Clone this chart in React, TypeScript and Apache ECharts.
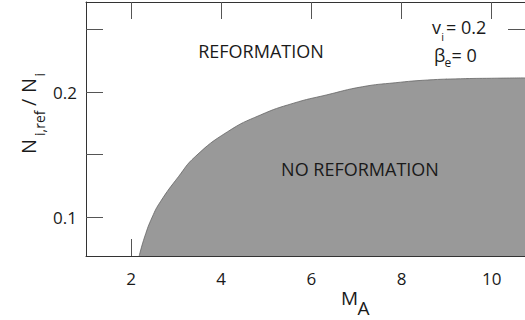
import React, { useEffect, useRef } from "react";
import * as echarts from "echarts";

// Reformation boundary: N_i,ref / N_i versus Alfvén Mach number M_A
const machNumbers = [2.18, 2.3, 2.47, 2.65, 3.05, 3.42, 4.14, 4.87, 5.6, 6.33, 7.13, 7.86, 8.58, 9.31, 10.0, 10.74];
const densityRatio = [0.0688, 0.084, 0.1, 0.1122, 0.1322, 0.1482, 0.1682, 0.1816, 0.191, 0.1976, 0.2042, 0.2074, 0.2096, 0.2106, 0.211, 0.2113];

const xTicks = [2, 4, 6, 8, 10];
const yTicks = [0.1, 0.15, 0.2, 0.25];
const yLabels = [0.1, 0.2];

const X_MIN = 1;
const X_MAX = 10.74;
const Y_MIN = 0.0688;
const Y_MAX = 0.272;

const FONT = "'Open Sans', 'Noto Sans', sans-serif";
const AXIS_COLOR = "#333";
const TICK_COLOR = "#555";
const TEXT_COLOR = "#1a1a1a";

export default function App() {
  const ref = useRef<HTMLDivElement>(null);

  useEffect(() => {
    if (!ref.current) return;
    const chart = echarts.init(ref.current, null, { renderer: "svg" });

    const baseX = {
      type: "value" as const,
      min: X_MIN,
      max: X_MAX,
      axisLine: { show: true, lineStyle: { color: AXIS_COLOR, width: 1 } },
      axisTick: { show: true, inside: true, length: 17, customValues: xTicks, lineStyle: { color: TICK_COLOR, width: 1 } },
      splitLine: { show: false },
    };
    const baseY = {
      type: "value" as const,
      min: Y_MIN,
      max: Y_MAX,
      axisLine: { show: true, lineStyle: { color: AXIS_COLOR, width: 1 } },
      axisTick: { show: true, inside: true, length: 17, customValues: yTicks, lineStyle: { color: TICK_COLOR, width: 1 } },
      splitLine: { show: false },
    };

    const text = (x: number, y: number, s: string, size: number, align = "left") => ({
      type: "text",
      x,
      y,
      z: 100,
      style: { text: s, fontSize: size, fontFamily: FONT, fill: TEXT_COLOR, align, verticalAlign: "middle" },
    });

    chart.setOption({
      animation: false,
      grid: { left: 86, right: -7, top: 2, bottom: 64, containLabel: false },
      xAxis: [
        {
          ...baseX,
          position: "bottom",
          axisLabel: { show: true, customValues: xTicks, margin: 14, fontSize: 17, fontFamily: FONT, color: TEXT_COLOR },
        },
        { ...baseX, position: "top", axisLabel: { show: false } },
      ],
      yAxis: [
        {
          ...baseY,
          position: "left",
          axisLabel: { show: true, customValues: yLabels, margin: 9, fontSize: 17, fontFamily: FONT, color: TEXT_COLOR },
        },
        { ...baseY, position: "right", axisLabel: { show: false } },
      ],
      series: [
        {
          type: "line",
          xAxisIndex: 0,
          yAxisIndex: 0,
          data: machNumbers.map((m, i) => [m, densityRatio[i]]),
          smooth: 0.5,
          showSymbol: false,
          symbol: "none",
          lineStyle: { color: "#666", width: 0.8 },
          areaStyle: { color: "#999999", opacity: 1, origin: "start" },
          z: 1,
        },
      ],
      graphic: [
        text(261, 51, "REFORMATION", 18, "center"),
        text(360, 169, "NO REFORMATION", 18, "center"),
        // annotation: v_i = 0.2, beta_e = 0
        text(432, 27, "v", 18),
        text(441.2, 36.5, "i", 11),
        text(446, 27, "= 0.2", 18),
        text(434, 55, "β", 18),
        text(444.5, 62.5, "e", 12),
        text(451.5, 55, "= 0", 18),
        // x-axis title M_A
        text(341, 298, "M", 19),
        text(357.5, 308, "A", 19),
        // y-axis title N_i,ref / N_i, rotated
        {
          type: "group",
          x: 28,
          y: 157,
          rotation: Math.PI / 2,
          z: 100,
          children: [
            text(3, 0, "N", 20),
            text(21, 11, "i,ref", 14),
            text(51, 0, "/", 20),
            text(64, 0, "N", 20),
            text(80.5, 11, "i", 14),
          ],
        },
      ],
    });

    return () => chart.dispose();
  }, []);

  return (
    <div
      ref={ref}
      style={{ position: "absolute", left: 0, top: 0, width: 525, height: 320, background: "#fff" }}
    />
  );
}
